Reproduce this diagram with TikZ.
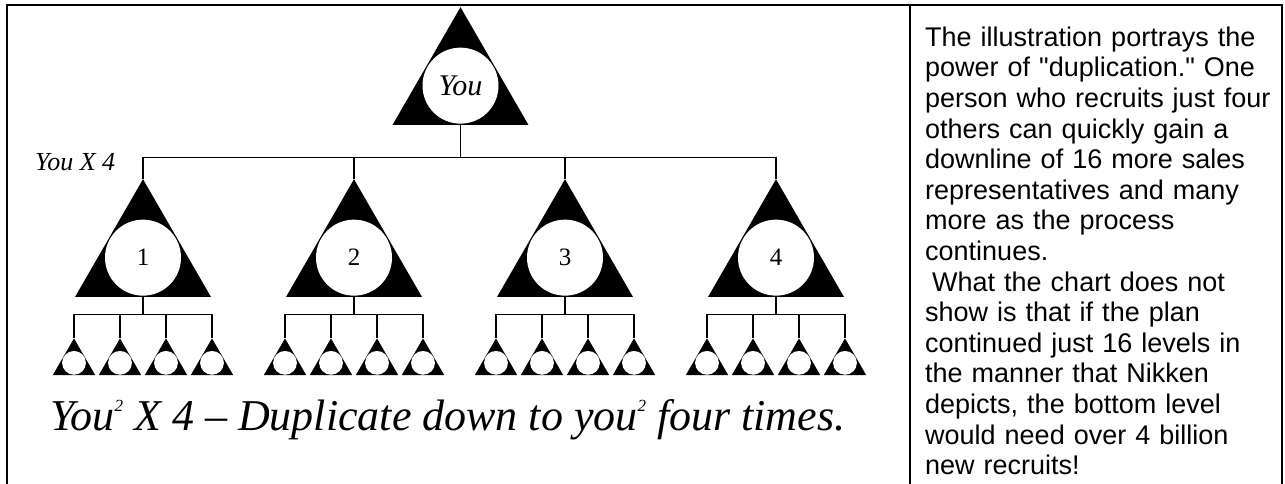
\documentclass[tikz,border=0pt]{standalone}
\usepackage{fontspec}
\setmainfont{Liberation Serif}
\setsansfont{Liberation Sans}[Ligatures=TeXOff]
\usepackage{tikz}
\usetikzlibrary{positioning}
\usetikzlibrary{shapes.geometric}

\newcommand{\smallsq}{\raisebox{0.42em}{\fontsize{17}{17}\selectfont 2}}

\begin{document}
\begin{tikzpicture}[x=1pt, y=-1pt, on grid,
	bigrep/.style={regular polygon, regular polygon sides=3, fill=black, inner sep=0pt, minimum size=157pt,
		font=\fontsize{25}{25}\selectfont,
		path picture={\fill[white] ([yshift=39.3pt]path picture bounding box.south) circle (38pt);}},
	smallrep/.style={regular polygon, regular polygon sides=3, fill=black, inner sep=0pt, minimum size=49pt,
		path picture={\fill[white] ([yshift=12.3pt]path picture bounding box.south) circle (11.9pt);}},
	link/.style={line width=1.2pt}]
	\useasboundingbox (0,0) rectangle (1285,484);
	% Frame of the table
	\draw[line width=2pt] (6.5,495) -- (6.5,5.5) -- (1282,5.5) -- (1282,495);
	\draw[line width=1.5pt] (910,5.5) -- (910,495);
	% Draw the nodes
	\node[bigrep, font=\itshape\fontsize{30}{30}\selectfont] at (460.5,85.7) (top) {You};
	\node[anchor=base west, inner sep=0pt, font=\itshape\fontsize{26}{26}\selectfont] at (35,170) (youx4) {You X 4};
	% Level 2
	\node[bigrep, below left=172pt and 317.5pt of top] (rep1) {1};
	\node[bigrep, below left=172pt and 106.5pt of top] (rep2) {2};
	\node[bigrep, below right=172pt and 104.5pt of top] (rep3) {3};
	\node[bigrep, below right=172pt and 315.5pt of top] (rep4) {4};
	% Level 3
	\node[smallrep, below left=105.2pt and 69pt of rep1] (rep11) {};
	\node[smallrep, below left=105.2pt and 23pt of rep1] (rep12) {};
	\node[smallrep, below right=105.2pt and 23pt of rep1] (rep13) {};
	\node[smallrep, below right=105.2pt and 69pt of rep1] (rep14) {};
	\node[smallrep, below left=105.2pt and 69pt of rep2] (rep21) {};
	\node[smallrep, below left=105.2pt and 23pt of rep2] (rep22) {};
	\node[smallrep, below right=105.2pt and 23pt of rep2] (rep23) {};
	\node[smallrep, below right=105.2pt and 69pt of rep2] (rep24) {};
	\node[smallrep, below left=105.2pt and 69pt of rep3] (rep31) {};
	\node[smallrep, below left=105.2pt and 23pt of rep3] (rep32) {};
	\node[smallrep, below right=105.2pt and 23pt of rep3] (rep33) {};
	\node[smallrep, below right=105.2pt and 69pt of rep3] (rep34) {};
	\node[smallrep, below left=105.2pt and 69pt of rep4] (rep41) {};
	\node[smallrep, below left=105.2pt and 23pt of rep4] (rep42) {};
	\node[smallrep, below right=105.2pt and 23pt of rep4] (rep43) {};
	\node[smallrep, below right=105.2pt and 69pt of rep4] (rep44) {};
	% Caption and note
	\node[anchor=base west, inner sep=0pt, font=\itshape\fontsize{44}{44}\selectfont] at (50,430) (caption)
		{You\smallsq{} X 4 -- Duplicate down to you\smallsq{} four times.};
	\node[anchor=base west, inner sep=0pt, text width=358pt, align=left,
		font=\sffamily\fontsize{27}{30.6}\selectfont] at (925,46.3) (note)
		{The illustration portrays the\\
		power of "duplication." One\\
		person who recruits just four\\
		others can quickly gain a\\
		downline of 16 more sales\\
		representatives and many\\
		more as the process\\
		continues.\\
		\hspace*{7pt}What the chart does not\\
		show is that if the plan\\
		continued just 16 levels in\\
		the manner that Nikken\\
		depicts, the bottom level\\
		would need over 4 billion\\
		new recruits!};
	% Bars under the triangles
	\coordinate[below=32pt of top.south] (topbar);
	\coordinate[below=17pt of rep1.south] (bar1);
	\coordinate[below=17pt of rep2.south] (bar2);
	\coordinate[below=17pt of rep3.south] (bar3);
	\coordinate[below=17pt of rep4.south] (bar4);
	% Draw the paths between nodes
	\draw[link] (top.south) -- (topbar);
	\draw[link] (topbar) -| (rep1.north);
	\draw[link] (topbar) -| (rep2.north);
	\draw[link] (topbar) -| (rep3.north);
	\draw[link] (topbar) -| (rep4.north);
	\draw[link] (rep1.south) -- (bar1);
	\draw[link] (bar1) -| (rep11.north);
	\draw[link] (bar1) -| (rep12.north);
	\draw[link] (bar1) -| (rep13.north);
	\draw[link] (bar1) -| (rep14.north);
	\draw[link] (rep2.south) -- (bar2);
	\draw[link] (bar2) -| (rep21.north);
	\draw[link] (bar2) -| (rep22.north);
	\draw[link] (bar2) -| (rep23.north);
	\draw[link] (bar2) -| (rep24.north);
	\draw[link] (rep3.south) -- (bar3);
	\draw[link] (bar3) -| (rep31.north);
	\draw[link] (bar3) -| (rep32.north);
	\draw[link] (bar3) -| (rep33.north);
	\draw[link] (bar3) -| (rep34.north);
	\draw[link] (rep4.south) -- (bar4);
	\draw[link] (bar4) -| (rep41.north);
	\draw[link] (bar4) -| (rep42.north);
	\draw[link] (bar4) -| (rep43.north);
	\draw[link] (bar4) -| (rep44.north);
\end{tikzpicture}
\end{document}
